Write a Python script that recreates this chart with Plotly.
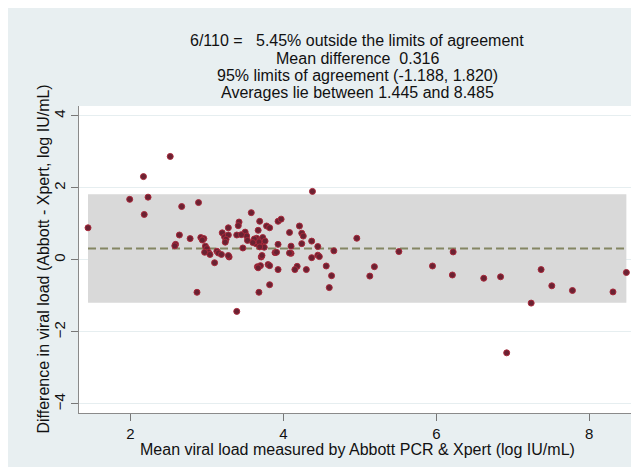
import plotly.graph_objects as go

# ---- summary statistics (from the chart text) ----
n_outside = 6
n_total = 110
pct_outside = 5.45
mean_diff = 0.316
loa_low = -1.188
loa_high = 1.820
avg_min = 1.445
avg_max = 8.485

# ---- data: mean of the two methods (x) and difference (y) ----
mean_load = [1.445, 1.99, 2.17, 2.18, 2.23, 2.52, 2.59, 2.58, 2.64, 2.67, 2.78, 2.87, 2.89,
             2.92, 2.96, 2.94, 2.98, 3.00, 3.02, 2.97, 3.04, 3.13, 3.15, 3.10, 3.19, 3.29, 3.20,
             3.23, 3.28, 3.25, 3.24, 3.28, 3.39, 3.42, 3.41, 3.50, 3.52, 3.53, 3.47, 3.28, 3.39, 3.58,
             3.69, 3.78, 3.82, 3.67, 3.65, 3.70, 3.64, 3.72, 3.68, 3.75, 3.71, 3.72, 3.89, 3.91,
             3.93, 3.93, 3.97, 3.66, 3.70, 3.67, 3.80, 3.82, 3.93, 3.82, 3.68,
             4.08, 4.21, 4.24, 4.26, 4.24, 4.10, 4.10, 4.08, 4.18, 4.15, 4.30, 4.37, 4.37, 4.38,
             4.45, 4.45, 4.47, 4.56, 4.63, 4.60, 4.66, 4.96, 5.13, 5.19, 5.51, 5.95, 6.21, 6.22,
             6.62, 6.84, 6.92, 7.24, 7.37, 7.51, 7.78, 8.31, 8.485,
             3.73, 3.69, 3.76, 3.62, 3.45, 3.60]
difference = [0.89, 1.68, 2.31, 1.26, 1.74, 2.87, 0.43, 0.39, 0.69, 1.48, 0.59, -0.90, 1.59,
              0.62, 0.59, 0.55, 0.38, 0.31, 0.21, 0.21, 0.15, 0.24, 0.19, -0.08, 0.15, 0.08, 0.75,
              0.64, 0.69, 0.57, 0.49, 0.89, 0.69, 1.05, 0.95, 0.77, 0.66, 0.54, 0.33, 0.12, -1.43, 1.31,
              1.07, 0.94, 0.89, 0.82, 0.60, 0.55, 0.45, 0.40, 0.50, 0.35, 0.08, 0.12, 0.20, 0.21,
              0.43, 1.07, 1.13, -0.19, -0.16, -0.22, -0.13, -0.16, -0.27, -0.69, -0.90,
              0.76, 0.94, 0.74, 0.66, 0.45, 0.38, 0.18, 0.19, -0.18, -0.27, -0.27, 0.52, 0.06, 1.90,
              0.37, 0.13, 0.09, -0.17, -0.44, -0.77, 0.25, 0.60, -0.45, -0.19, 0.23, -0.17, -0.42, 0.22,
              -0.51, -0.47, -2.58, -1.20, -0.27, -0.72, -0.85, -0.89, -0.35,
              0.62, 0.36, 0.52, 0.58, 0.70, 0.48]

x_ticks = [2, 4, 6, 8]
y_ticks = [-4, -2, 0, 2, 4]

title_lines = [
    f"{n_outside}/{n_total} =&nbsp;&nbsp; {pct_outside:.2f}% outside the limits of agreement",
    f"Mean difference&nbsp; {mean_diff:.3f}",
    f"95% limits of agreement ({loa_low:.3f}, {loa_high:.3f})",
    f"Averages lie between {avg_min:.3f} and {avg_max:.3f}",
]
x_title = "Mean viral load measured by Abbott PCR &amp; Xpert (log IU/mL)"
y_title = "Difference in viral load (Abbott - Xpert, log IU/mL)"

FONT = "Liberation Sans, Arial, sans-serif"
W, H = 639, 467
ML, MR, MT, MB = 71, 12, 98, 62
plot_h = H - MT - MB
plot_w = W - ML - MR

fig = go.Figure()

# limits-of-agreement band
fig.add_trace(go.Scatter(
    x=[avg_min, avg_max, avg_max, avg_min, avg_min],
    y=[loa_low, loa_low, loa_high, loa_high, loa_low],
    mode="lines", fill="toself", fillcolor="#d9d9d9",
    line=dict(width=0), hoverinfo="skip", showlegend=False))

# mean difference line
fig.add_trace(go.Scatter(
    x=[avg_min, avg_max], y=[mean_diff, mean_diff],
    mode="lines", line=dict(color="#848663", width=2, dash="8px,4px"),
    hoverinfo="skip", showlegend=False))

# points
fig.add_trace(go.Scatter(
    x=mean_load, y=difference, mode="markers",
    marker=dict(size=6, color="#6a2232", line=dict(color="#a8293b", width=1)),
    showlegend=False))

annotations = []
for i, line in enumerate(title_lines):
    py = 33 + 17.3 * i
    annotations.append(dict(
        text=line, xref="paper", yref="paper", x=0.5, y=(H - MB - py) / plot_h,
        xanchor="center", yanchor="middle", showarrow=False,
        font=dict(family=FONT, size=16, color="#111111")))
annotations.append(dict(
    text=x_title, xref="paper", yref="paper", x=0.5, y=(H - MB - 441) / plot_h,
    xanchor="center", yanchor="middle", showarrow=False,
    font=dict(family=FONT, size=16, color="#111111")))
annotations.append(dict(
    text=y_title, xref="paper", yref="paper", x=(35 - ML) / plot_w, y=0.5,
    xanchor="center", yanchor="middle", showarrow=False, textangle=-90,
    font=dict(family=FONT, size=16, color="#111111")))

fig.update_layout(
    width=W, height=H,
    margin=dict(l=ML, r=MR, t=MT, b=MB, pad=0),
    paper_bgcolor="#e8eff1", plot_bgcolor="#ffffff",
    font=dict(family=FONT, size=15, color="#111111"),
    annotations=annotations,
    xaxis=dict(range=[1.327, 8.598], tickvals=x_ticks, ticks="outside", ticklen=7,
               tickcolor="#777777", showline=True, linecolor="#8a8a8a", linewidth=1,
               showgrid=False, zeroline=False, tickfont=dict(size=15)),
    yaxis=dict(range=[-4.25, 4.27], tickvals=y_ticks, ticks="outside", ticklen=7,
               tickcolor="#777777", showline=True, linecolor="#8a8a8a", linewidth=1,
               showgrid=True, gridcolor="#e6eef0", gridwidth=1, zeroline=False,
               tickangle=-90, tickfont=dict(size=15)),
)

fig.write_html("out.html")
